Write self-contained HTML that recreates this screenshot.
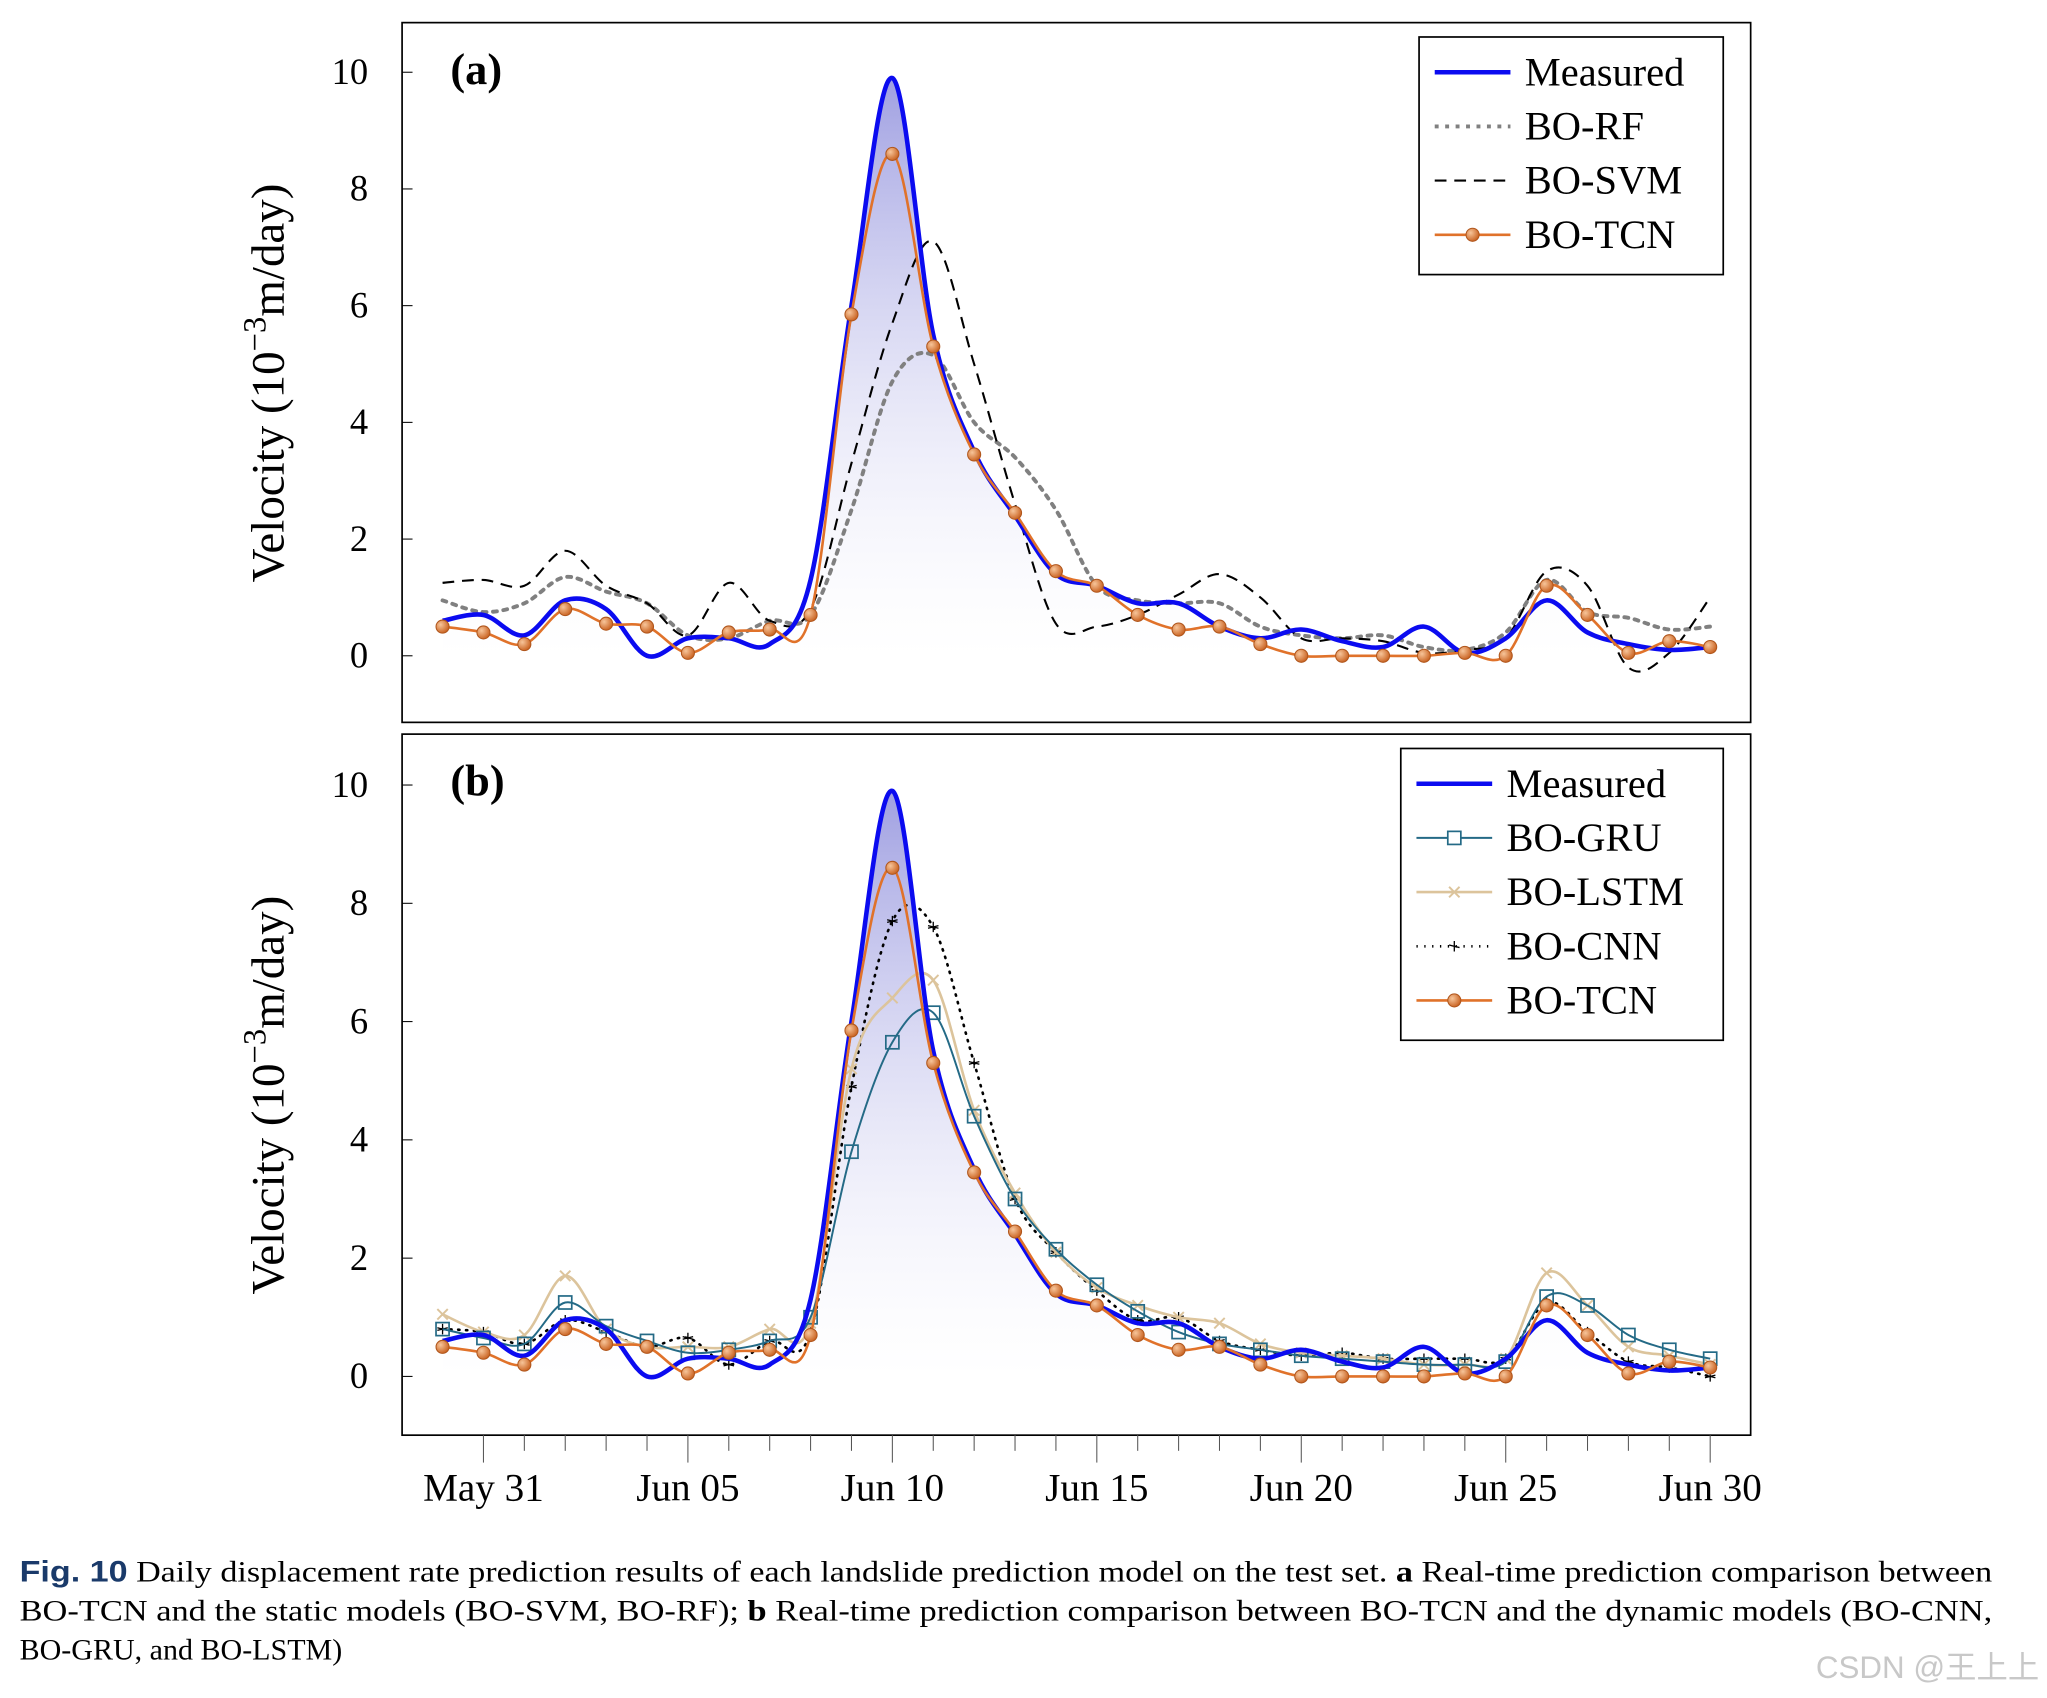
<!DOCTYPE html>
<html><head><meta charset="utf-8"><style>
html,body{margin:0;padding:0;background:#fff;}
svg{display:block;}
text{font-family:"Liberation Serif",serif;}
</style></head><body>
<svg id="chart" width="2047" height="1698" viewBox="0 0 1568 1300" xmlns="http://www.w3.org/2000/svg">
<defs>
<linearGradient id="gfill" x1="0" y1="0" x2="0" y2="1">
<stop offset="0" stop-color="#8f8fdc" stop-opacity="0.85"/>
<stop offset="1" stop-color="#ffffff" stop-opacity="0.2"/>
</linearGradient>
<radialGradient id="ball" cx="0.35" cy="0.35" r="0.7">
<stop offset="0" stop-color="#f7c59a"/><stop offset="1" stop-color="#c8601e"/>
</radialGradient>
</defs>
<g id="root"></g>
<text x="15" y="1211" font-size="23" textLength="1511" lengthAdjust="spacingAndGlyphs"><tspan font-family="Liberation Sans, sans-serif" font-weight="bold" fill="#1a3a6a">Fig. 10</tspan>  Daily displacement rate prediction results of each landslide prediction model on the test set. <tspan font-weight="bold">a</tspan> Real-time prediction comparison between</text>
<text x="15" y="1241" font-size="23" textLength="1511" lengthAdjust="spacingAndGlyphs">BO-TCN and the static models (BO-SVM, BO-RF); <tspan font-weight="bold">b</tspan> Real-time prediction comparison between BO-TCN and the dynamic models (BO-CNN,</text>
<text x="15" y="1271" font-size="23">BO-GRU, and BO-LSTM)</text>
<text x="1562" y="1285" font-size="24" text-anchor="end" fill="#c8c8c8" style="font-family:'Liberation Sans','Noto Sans CJK SC',sans-serif">CSDN @王上上</text>
</svg>
<script>
const days = ["May 30","May 31","Jun 01","Jun 02","Jun 03","Jun 04","Jun 05","Jun 06","Jun 07","Jun 08","Jun 09","Jun 10","Jun 11","Jun 12","Jun 13","Jun 14","Jun 15","Jun 16","Jun 17","Jun 18","Jun 19","Jun 20","Jun 21","Jun 22","Jun 23","Jun 24","Jun 25","Jun 26","Jun 27","Jun 28","Jun 29","Jun 30"];
const xTickLabels = ["May 31","Jun 05","Jun 10","Jun 15","Jun 20","Jun 25","Jun 30"];
const yTicks = [0,2,4,6,8,10];
const measured = [0.6,0.7,0.35,0.95,0.8,0.0,0.3,0.3,0.2,1.3,6.0,9.9,5.5,3.5,2.4,1.4,1.2,0.9,0.9,0.5,0.3,0.45,0.25,0.15,0.5,0.05,0.3,0.95,0.4,0.2,0.1,0.15];
const tcn = [0.5,0.4,0.2,0.8,0.55,0.5,0.05,0.4,0.45,0.7,5.85,8.6,5.3,3.45,2.45,1.45,1.2,0.7,0.45,0.5,0.2,0.0,0.0,0.0,0.0,0.05,0.0,1.2,0.7,0.05,0.25,0.15];
const rf = [0.95,0.75,0.9,1.35,1.1,0.9,0.35,0.3,0.6,0.7,2.5,4.7,5.15,4.0,3.4,2.5,1.2,0.95,0.9,0.9,0.5,0.35,0.3,0.35,0.15,0.1,0.4,1.3,0.75,0.65,0.45,0.5];
const svm = [1.25,1.3,1.2,1.8,1.2,0.9,0.35,1.25,0.6,0.8,3.3,5.7,7.1,5.0,2.6,0.55,0.5,0.7,1.05,1.4,1.0,0.3,0.3,0.25,0.05,0.1,0.3,1.45,1.2,-0.2,0.05,1.0];
const gru = [0.8,0.65,0.55,1.25,0.85,0.6,0.4,0.45,0.6,1.0,3.8,5.65,6.15,4.4,3.0,2.15,1.55,1.1,0.75,0.55,0.45,0.35,0.3,0.25,0.2,0.2,0.25,1.35,1.2,0.7,0.45,0.3];
const lstm = [1.05,0.75,0.7,1.7,0.8,0.5,0.5,0.5,0.8,0.9,5.2,6.4,6.7,4.5,3.1,2.1,1.5,1.2,1.0,0.9,0.55,0.4,0.35,0.3,0.2,0.2,0.3,1.75,1.2,0.5,0.35,0.2];
const cnn = [0.8,0.75,0.55,0.95,0.75,0.5,0.65,0.2,0.6,0.75,4.9,7.7,7.6,5.3,3.0,2.1,1.45,0.95,1.0,0.6,0.45,0.35,0.4,0.3,0.3,0.3,0.3,1.25,0.75,0.25,0.15,0.0];

const NS="http://www.w3.org/2000/svg";
const root=document.getElementById('root');
function mk(tag,attrs,parent){const e=document.createElementNS(NS,tag);for(const k in attrs)e.setAttribute(k,attrs[k]);(parent||root).appendChild(e);return e;}
const X0=339, DX=(1310-339)/(days.length-1);
function xs(i){return X0+i*DX;}
function smooth(pts){let d=`M${pts[0][0]},${pts[0][1]}`;for(let i=0;i<pts.length-1;i++){const p0=pts[Math.max(0,i-1)],p1=pts[i],p2=pts[i+1],p3=pts[Math.min(pts.length-1,i+2)];const t=0.5/3;d+=` C${p1[0]+(p2[0]-p0[0])*t},${p1[1]+(p2[1]-p0[1])*t} ${p2[0]-(p3[0]-p1[0])*t},${p2[1]-(p3[1]-p1[1])*t} ${p2[0]},${p2[1]}`;}return d;}

function panel(top,bottom,y0px,y10px,label,series,legend){
  const ys=v=>y0px+(y10px-y0px)*v/10;
  const g=mk('g',{});
  
  
  const frame=mk('rect',{x:308,y:top,width:1033,height:bottom-top,fill:'none',stroke:'#000','stroke-width':1.3},g);
  
  
  yTicks.forEach(v=>{
    const t=mk('text',{x:282,y:ys(v)+9,'font-size':28,'text-anchor':'end'},g);t.textContent=v;
    
    
    mk('line',{x1:308,x2:316,y1:ys(v),y2:ys(v),stroke:'#000','stroke-width':0.8},g);
  });
  const yt=mk('text',{x:0,y:0,'font-size':36,'text-anchor':'middle',transform:`translate(217,${(top+bottom)/2+8}) rotate(-90)`},g);
  yt.innerHTML='Velocity (10<tspan baseline-shift="super" font-size="25">−3</tspan>m/day)';
  
  
  const pl=mk('text',{x:345,y:top+47,'font-size':34,'font-weight':'bold'},g);pl.textContent='('+label+')';
  
  
  const mpts=measured.map((v,i)=>[xs(i),ys(v)]);
  const fd=smooth(mpts)+` L${xs(measured.length-1)},${ys(0)} L${xs(0)},${ys(0)} Z`;
  const fa=mk('path',{d:fd,fill:'url(#gfill)',stroke:'none'},g);
  
  
  series.forEach(s=>{
    const pts=s.data.map((v,i)=>[xs(i),ys(v)]);
    const p=mk('path',{d:smooth(pts),fill:'none',stroke:s.color,'stroke-width':s.w,'stroke-dasharray':s.dash||'none','stroke-linecap':s.cap||'butt'},g);
    
    
    if(s.marker){pts.forEach(q=>{
      let m;
      if(s.marker==='ball')m=mk('circle',{cx:q[0],cy:q[1],r:5,fill:'url(#ball)',stroke:'#b0561c','stroke-width':0.8},g);
      else if(s.marker==='sq')m=mk('rect',{x:q[0]-5,y:q[1]-5,width:10,height:10,fill:'none',stroke:s.color,'stroke-width':1.3},g);
      else if(s.marker==='x'){m=mk('path',{d:`M${q[0]-4},${q[1]-4}L${q[0]+4},${q[1]+4}M${q[0]-4},${q[1]+4}L${q[0]+4},${q[1]-4}`,stroke:s.color,'stroke-width':1.5},g);}
      else if(s.marker==='star'){m=mk('path',{d:`M${q[0]},${q[1]-4}L${q[0]},${q[1]+4}M${q[0]-4},${q[1]-1}L${q[0]+4},${q[1]+1}M${q[0]-4},${q[1]+1}L${q[0]+4},${q[1]-1}`,stroke:s.color,'stroke-width':1},g);}
      
      
    });}
  });
  const lx=legend.x, ly=top+11, lh=legend.items.length*41.5+16;
  const lg=mk('g',{},g);
  
  
  mk('rect',{x:lx,y:ly,width:1320-lx,height:lh,fill:'#fff',stroke:'#000','stroke-width':1.3},lg);
  legend.items.forEach((s,k)=>{
    const yy=ly+27+k*41.5;
    const e=mk('g',{},lg);
    
    
    mk('line',{x1:lx+12,x2:lx+70,y1:yy,y2:yy,stroke:s.color,'stroke-width':s.w,'stroke-dasharray':s.dash||'none'},e);
    const c=lx+41;
    if(s.marker==='ball')mk('circle',{cx:c,cy:yy,r:5,fill:'url(#ball)',stroke:'#b0561c','stroke-width':0.8},e);
    if(s.marker==='sq')mk('rect',{x:c-5,y:yy-5,width:10,height:10,fill:'#fff',stroke:s.color,'stroke-width':1.3},e);
    if(s.marker==='x')mk('path',{d:`M${c-4},${yy-4}L${c+4},${yy+4}M${c-4},${yy+4}L${c+4},${yy-4}`,stroke:s.color,'stroke-width':1.5},e);
    if(s.marker==='star')mk('path',{d:`M${c},${yy-4}L${c},${yy+4}M${c-4},${yy-1}L${c+4},${yy+1}`,stroke:s.color,'stroke-width':1},e);
    const t=mk('text',{x:lx+81,y:yy+10,'font-size':31},e);t.textContent=s.label;
  });
}
const S={
  measured:{name:'measured',label:'Measured',data:measured,color:'#0b0bf0',w:3.5},
  rf:{name:'bo-rf',label:'BO-RF',data:rf,color:'#808080',w:3,dash:'3 5',cap:'round'},
  svm:{name:'bo-svm',label:'BO-SVM',data:svm,color:'#000',w:1.6,dash:'9 6'},
  tcn:{name:'bo-tcn',label:'BO-TCN',data:tcn,color:'#e0722a',w:2,marker:'ball'},
  gru:{name:'bo-gru',label:'BO-GRU',data:gru,color:'#246a86',w:1.5,marker:'sq'},
  lstm:{name:'bo-lstm',label:'BO-LSTM',data:lstm,color:'#dcc49c',w:2,marker:'x'},
  cnn:{name:'bo-cnn',label:'BO-CNN',data:cnn,color:'#000',w:2,dash:'1 5',cap:'round',marker:'star'}
};
panel(17,553,502,55,'a',[S.rf,S.svm,S.measured,S.tcn],{x:1087,items:[S.measured,S.rf,S.svm,S.tcn]});
panel(562,1099,1054,601,'b',[S.cnn,S.lstm,S.gru,S.measured,S.tcn],{x:1073,items:[S.measured,S.gru,S.lstm,S.cnn,S.tcn]});
const xa=mk('g',{});


days.forEach((d,i)=>{
  if(i===0)return;
  const major=xTickLabels.indexOf(d)>=0;
  mk('line',{x1:xs(i),x2:xs(i),y1:1099,y2:major?1120:1111,stroke:'#555','stroke-width':0.8},xa);
  if(major){const t=mk('text',{x:xs(i),y:1149,'font-size':30,'text-anchor':'middle'},xa);t.textContent=d;
    
    }
});
</script>
</body></html>
